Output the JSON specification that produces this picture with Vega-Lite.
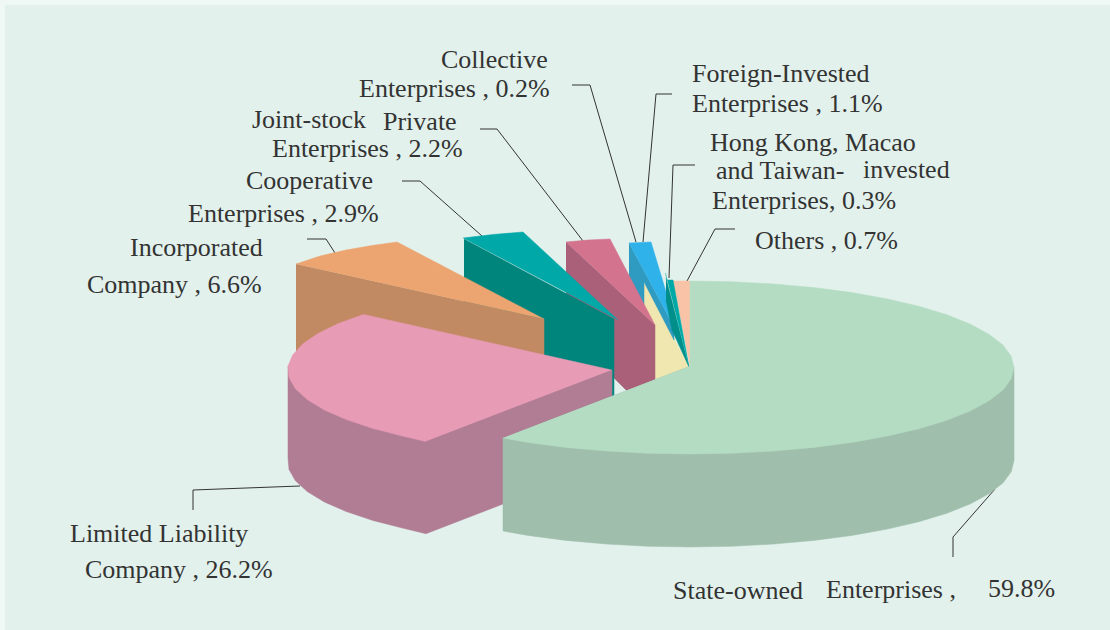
{"$schema":"https://vega.github.io/schema/vega-lite/v6.json","width":1110,"height":630,"padding":0,"autosize":{"type":"none"},"background":"#EFF8F4","config":{"view":{"stroke":null}},
"datasets":{
"panel":[{"x":5,"y":5,"x2":1110,"y2":630}],
"poly":[
{"p":"peach","i":0,"x":673,"y":281},{"p":"peach","i":1,"x":690,"y":281},{"p":"peach","i":2,"x":690,"y":367},
{"p":"yellow","i":0,"x":644,"y":282},{"p":"yellow","i":1,"x":689,"y":367},{"p":"yellow","i":2,"x":655,"y":380},{"p":"yellow","i":3,"x":644,"y":340},
{"p":"blue_side","i":0,"x":629,"y":243},{"p":"blue_side","i":1,"x":674,"y":327},{"p":"blue_side","i":2,"x":674,"y":340},{"p":"blue_side","i":3,"x":644,"y":282},{"p":"blue_side","i":4,"x":644,"y":310},{"p":"blue_side","i":5,"x":629,"y":290},
{"p":"blue_top","i":0,"x":629,"y":243},{"p":"blue_top","i":1,"x":651,"y":242},{"p":"blue_top","i":2,"x":676,"y":325},{"p":"blue_top","i":3,"x":674,"y":327},
{"p":"steel_side","i":0,"x":666,"y":278},{"p":"steel_side","i":1,"x":689,"y":367},{"p":"steel_side","i":2,"x":672,"y":330},{"p":"steel_side","i":3,"x":666,"y":300},
{"p":"steel_top","i":0,"x":665.5,"y":273},{"p":"steel_top","i":1,"x":667,"y":280},{"p":"steel_top","i":2,"x":673,"y":280},{"p":"steel_top","i":3,"x":689,"y":367},
{"p":"rose_side","i":0,"x":566,"y":242},{"p":"rose_side","i":1,"x":655,"y":325},{"p":"rose_side","i":2,"x":655,"y":380},{"p":"rose_side","i":3,"x":627,"y":391},{"p":"rose_side","i":4,"x":566,"y":330},
{"p":"rose_top","i":0,"x":566,"y":242},{"p":"rose_top","i":1,"x":588,"y":240},{"p":"rose_top","i":2,"x":610,"y":239},{"p":"rose_top","i":3,"x":655,"y":325},
{"p":"teal_side","i":0,"x":464,"y":239},{"p":"teal_side","i":1,"x":614,"y":319},{"p":"teal_side","i":2,"x":614,"y":397},{"p":"teal_side","i":3,"x":464,"y":330},
{"p":"teal_top","i":0,"x":463,"y":238},{"p":"teal_top","i":1,"x":493,"y":234.5},{"p":"teal_top","i":2,"x":523,"y":232},{"p":"teal_top","i":3,"x":618,"y":320},
{"p":"orange_side","i":0,"x":296,"y":264},{"p":"orange_side","i":1,"x":544,"y":319},{"p":"orange_side","i":2,"x":544,"y":400},{"p":"orange_side","i":3,"x":296,"y":356},
{"p":"orange_top","i":0,"x":296,"y":264},{"p":"orange_top","i":1,"x":320,"y":256},{"p":"orange_top","i":2,"x":346,"y":250},{"p":"orange_top","i":3,"x":372,"y":245.5},{"p":"orange_top","i":4,"x":397,"y":242},{"p":"orange_top","i":5,"x":544,"y":319},
{"p":"pink_side","i":0,"x":288,"y":366},{"p":"pink_side","i":1,"x":288,"y":458},{"p":"pink_side","i":2,"x":289,"y":469.5},{"p":"pink_side","i":3,"x":295.4,"y":480.7},{"p":"pink_side","i":4,"x":307.2,"y":491.6},{"p":"pink_side","i":5,"x":324.3,"y":501.9},{"p":"pink_side","i":6,"x":346.3,"y":511.6},{"p":"pink_side","i":7,"x":372.8,"y":520.4},{"p":"pink_side","i":8,"x":403.4,"y":528.3},{"p":"pink_side","i":9,"x":426,"y":533.7},{"p":"pink_side","i":10,"x":612,"y":462},{"p":"pink_side","i":11,"x":612,"y":370},
{"p":"pink_top","i":0,"x":611.7,"y":370},{"p":"pink_top","i":1,"x":363.5,"y":314.4},{"p":"pink_top","i":2,"x":338.4,"y":323.5},{"p":"pink_top","i":3,"x":318,"y":333.4},{"p":"pink_top","i":4,"x":302.7,"y":344},{"p":"pink_top","i":5,"x":292.6,"y":355},{"p":"pink_top","i":6,"x":288,"y":366.2},{"p":"pink_top","i":7,"x":289,"y":377.5},{"p":"pink_top","i":8,"x":295.4,"y":388.7},{"p":"pink_top","i":9,"x":307.2,"y":399.6},{"p":"pink_top","i":10,"x":324.3,"y":409.9},{"p":"pink_top","i":11,"x":346.3,"y":419.6},{"p":"pink_top","i":12,"x":372.8,"y":428.4},{"p":"pink_top","i":13,"x":403.4,"y":436.3},{"p":"pink_top","i":14,"x":425.5,"y":441.5},
{"p":"state_side","i":0,"x":690,"y":366},{"p":"state_side","i":1,"x":1014,"y":367.5},{"p":"state_side","i":2,"x":1014,"y":460.5},{"p":"state_side","i":3,"x":1011.2,"y":471.8},{"p":"state_side","i":4,"x":1003,"y":482.9},{"p":"state_side","i":5,"x":989.3,"y":493.6},{"p":"state_side","i":6,"x":970.6,"y":503.8},{"p":"state_side","i":7,"x":947,"y":513.2},{"p":"state_side","i":8,"x":919,"y":521.7},{"p":"state_side","i":9,"x":887.3,"y":529.1},{"p":"state_side","i":10,"x":852,"y":535.4},{"p":"state_side","i":11,"x":814,"y":540.4},{"p":"state_side","i":12,"x":774,"y":544},{"p":"state_side","i":13,"x":732.3,"y":546.3},{"p":"state_side","i":14,"x":690,"y":547},{"p":"state_side","i":15,"x":647.7,"y":546.3},{"p":"state_side","i":16,"x":606,"y":544},{"p":"state_side","i":17,"x":566,"y":540.4},{"p":"state_side","i":18,"x":528,"y":535.4},{"p":"state_side","i":19,"x":503,"y":531},{"p":"state_side","i":20,"x":503,"y":438},
{"p":"state_top","i":0,"x":690,"y":366},{"p":"state_top","i":1,"x":690,"y":281},{"p":"state_top","i":2,"x":732.3,"y":281.7},{"p":"state_top","i":3,"x":774,"y":284},{"p":"state_top","i":4,"x":814,"y":287.6},{"p":"state_top","i":5,"x":852,"y":292.6},{"p":"state_top","i":6,"x":887.3,"y":298.9},{"p":"state_top","i":7,"x":919,"y":306.3},{"p":"state_top","i":8,"x":947,"y":314.8},{"p":"state_top","i":9,"x":970.6,"y":324.3},{"p":"state_top","i":10,"x":989.3,"y":334.4},{"p":"state_top","i":11,"x":1003,"y":345.1},{"p":"state_top","i":12,"x":1011.2,"y":356.2},{"p":"state_top","i":13,"x":1014,"y":367.5},{"p":"state_top","i":14,"x":1011.2,"y":378.8},{"p":"state_top","i":15,"x":1003,"y":389.9},{"p":"state_top","i":16,"x":989.3,"y":400.6},{"p":"state_top","i":17,"x":970.6,"y":410.8},{"p":"state_top","i":18,"x":947,"y":420.2},{"p":"state_top","i":19,"x":919,"y":428.7},{"p":"state_top","i":20,"x":887.3,"y":436.1},{"p":"state_top","i":21,"x":852,"y":442.4},{"p":"state_top","i":22,"x":814,"y":447.4},{"p":"state_top","i":23,"x":774,"y":451},{"p":"state_top","i":24,"x":732.3,"y":453.3},{"p":"state_top","i":25,"x":690,"y":454},{"p":"state_top","i":26,"x":647.7,"y":453.3},{"p":"state_top","i":27,"x":606,"y":451},{"p":"state_top","i":28,"x":566,"y":447.4},{"p":"state_top","i":29,"x":528,"y":442.4},{"p":"state_top","i":30,"x":503,"y":438}
],
"leaders":[
{"l":"collective","i":0,"x":572,"y":85},{"l":"collective","i":1,"x":590,"y":85},{"l":"collective","i":2,"x":636,"y":242},
{"l":"foreign","i":0,"x":672,"y":94},{"l":"foreign","i":1,"x":656,"y":94},{"l":"foreign","i":2,"x":643,"y":242},
{"l":"hk","i":0,"x":695,"y":165},{"l":"hk","i":1,"x":673,"y":165},{"l":"hk","i":2,"x":669,"y":278},
{"l":"others","i":0,"x":735,"y":229},{"l":"others","i":1,"x":715,"y":229},{"l":"others","i":2,"x":687,"y":281},
{"l":"private","i":0,"x":480,"y":129},{"l":"private","i":1,"x":497,"y":129},{"l":"private","i":2,"x":583,"y":241},
{"l":"joint","i":0,"x":402,"y":181},{"l":"joint","i":1,"x":420,"y":181},{"l":"joint","i":2,"x":482,"y":236},
{"l":"inc","i":0,"x":307,"y":239},{"l":"inc","i":1,"x":326,"y":239},{"l":"inc","i":2,"x":335,"y":253},
{"l":"state","i":0,"x":953,"y":557},{"l":"state","i":1,"x":953,"y":537},{"l":"state","i":2,"x":995,"y":489},
{"l":"limited","i":0,"x":193,"y":510},{"l":"limited","i":1,"x":193,"y":490},{"l":"limited","i":2,"x":300,"y":486}
],
"labels":[
{"t":"Collective","x":441,"y":68},{"t":"Enterprises , 0.2%","x":359,"y":97},
{"t":"Foreign-Invested","x":692,"y":82},{"t":"Enterprises , 1.1%","x":692,"y":112},
{"t":"Hong Kong, Macao","x":710,"y":151},{"t":"and Taiwan-","x":716,"y":179},{"t":"invested","x":863,"y":178},{"t":"Enterprises, 0.3%","x":712,"y":209},
{"t":"Others , 0.7%","x":755,"y":249},
{"t":"Joint-stock","x":252,"y":128},{"t":"Private","x":383,"y":130},{"t":"Enterprises , 2.2%","x":272,"y":157},
{"t":"Cooperative","x":246,"y":189},{"t":"Enterprises , 2.9%","x":188,"y":222},
{"t":"Incorporated","x":130,"y":256},{"t":"Company , 6.6%","x":87,"y":293},
{"t":"Limited Liability","x":70,"y":542},{"t":"Company , 26.2%","x":85,"y":578},
{"t":"State-owned","x":673,"y":599},{"t":"Enterprises ,","x":826,"y":598},{"t":"59.8%","x":988,"y":597}
]},
"encoding":{"x":{"field":"x","type":"quantitative","scale":{"domain":[0,1110],"nice":false,"zero":false},"axis":null},"y":{"field":"y","type":"quantitative","scale":{"domain":[630,0],"nice":false,"zero":false},"axis":null}},
"layer":[
{"data":{"name":"panel"},"mark":{"type":"rect","fill":"#E2F1EC"},"encoding":{"x2":{"field":"x2"},"y2":{"field":"y2"}}},
{"data":{"name":"leaders"},"mark":{"type":"line","stroke":"#333333","strokeWidth":1},"encoding":{"detail":{"field":"l"},"order":{"field":"i"}}},
{"data":{"name":"poly"},"mark":{"type":"line","strokeWidth":0.5},"encoding":{"order":{"field":"i"},
"fill":{"field":"p","type":"nominal","legend":null,"scale":{"domain":["peach","yellow","blue_side","blue_top","steel_side","steel_top","rose_side","rose_top","teal_side","teal_top","orange_side","orange_top","pink_side","pink_top","state_side","state_top"],"range":["#F9C3A8","#F0E6B0","#2F9BC0","#2FB2EA","#008E8B","#00A9A5","#A96078","#D3738E","#00857C","#00A9A8","#C28A62","#ECA570","#B07D94","#E79BB5","#9FBEAC","#B4DCC2"]}},
"stroke":{"field":"p","type":"nominal","legend":null,"scale":{"domain":["peach","yellow","blue_side","blue_top","steel_side","steel_top","rose_side","rose_top","teal_side","teal_top","orange_side","orange_top","pink_side","pink_top","state_side","state_top"],"range":["#F9C3A8","#F0E6B0","#2F9BC0","#2FB2EA","#008E8B","#00A9A5","#A96078","#D3738E","#00857C","#00A9A8","#C28A62","#ECA570","#B07D94","#E79BB5","#9FBEAC","#B4DCC2"]}}}},
{"data":{"name":"labels"},"mark":{"type":"text","font":"Liberation Serif","fontSize":26,"align":"left","baseline":"alphabetic","fill":"#333333"},"encoding":{"text":{"field":"t"}}}
]}
